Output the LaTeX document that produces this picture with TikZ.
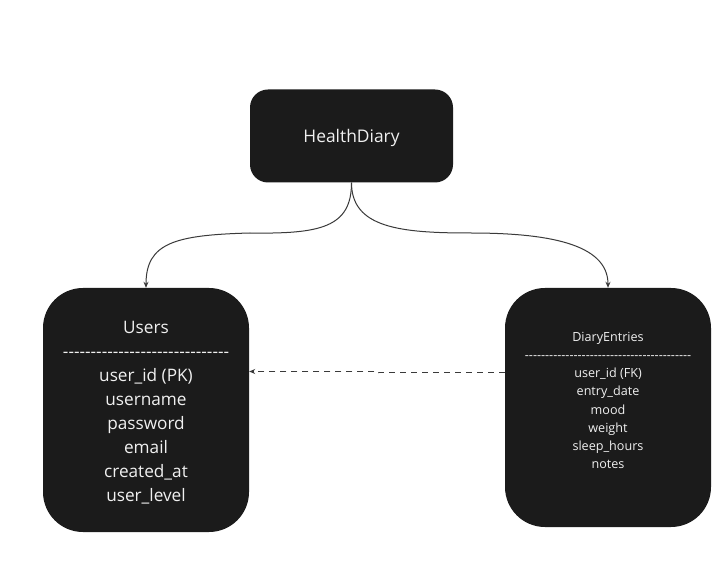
\documentclass[tikz,border=0pt]{standalone}
\usepackage{fontspec}
\setmainfont{Open Sans}[Ligatures=TeXOff]
\usetikzlibrary{arrows.meta}
\definecolor{boxfill}{HTML}{1B1B1B}
\definecolor{boxtext}{HTML}{F0F0F0}
\definecolor{linecol}{HTML}{3A3A3A}
\begin{document}
\begin{tikzpicture}[x=1pt,y=1pt,
  entity/.style={fill=boxfill,draw=none,inner sep=0pt},
  etext/.style={text=boxtext,align=center,inner sep=0pt},
  conn/.style={draw=linecol,line width=1pt,-{Stealth[length=6pt,width=5pt]}},
  fkconn/.style={draw=linecol,line width=1pt,dash pattern=on 6pt off 5pt,-{Stealth[length=6pt,width=5pt]}}]
\useasboundingbox[fill=white] (0,0) rectangle (722,565);
% boxes
\node[entity,minimum width=203pt,minimum height=93pt,rounded corners=18pt] (hd) at (351.5,429) {};
\node[etext,font=\fontsize{17.4}{19}\selectfont] (hdt) at (351.5,427) {HealthDiary};
\node[entity,minimum width=206pt,minimum height=244pt,rounded corners=40pt] (users) at (146,155) {};
\node[etext,font=\fontsize{17.2}{24}\selectfont] (userst) at (146,152) {Users\\------------------------------\\user\_id (PK)\\username\\password\\email\\created\_at\\user\_level};
\node[entity,minimum width=206pt,minimum height=239pt,rounded corners=40pt] (de) at (608,157.5) {};
\node[etext,font=\fontsize{12.6}{18.2}\selectfont] (det) at (608,164.5) {DiaryEntries\\-----------------------------------------\\user\_id (FK)\\entry\_date\\mood\\weight\\sleep\_hours\\notes};
% connectors
\coordinate (ml) at (250,332);
\coordinate (mr) at (470,332);
\draw[conn] (hd.south) .. controls +(0,-45) and +(70,-1) .. (ml) .. controls +(-75,-2) and +(0,45) .. (users.north);
\draw[conn] (hd.south) .. controls +(0,-45) and +(-70,0) .. (mr) .. controls +(75,0) and +(0,45) .. (de.north);
\coordinate (fkr) at (de.west |- 0,192);
\coordinate (fkl) at (users.east |- 0,193.5);
\coordinate (step) at (378,192);
\draw[fkconn] (fkr) -- (step) -- (378,193.5) -- (fkl);
\end{tikzpicture}
\end{document}
